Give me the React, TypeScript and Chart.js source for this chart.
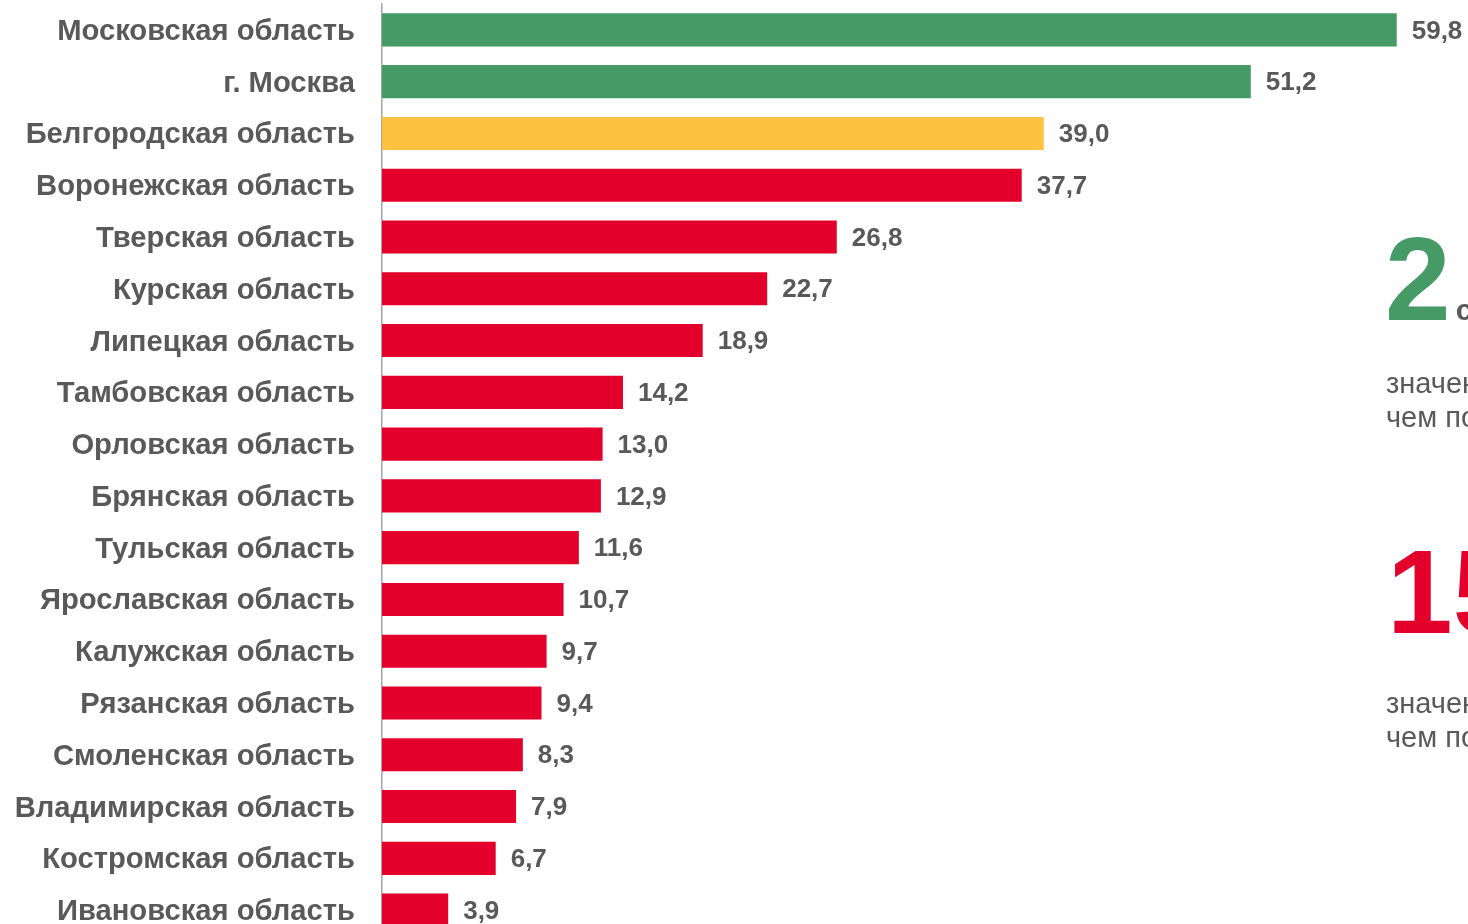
import React, { useEffect, useRef } from "react";
import { Chart, registerables } from "chart.js";

Chart.register(...registerables);

const regions = [
  "Московская область",
  "г. Москва",
  "Белгородская область",
  "Воронежская область",
  "Тверская область",
  "Курская область",
  "Липецкая область",
  "Тамбовская область",
  "Орловская область",
  "Брянская область",
  "Тульская область",
  "Ярославская область",
  "Калужская область",
  "Рязанская область",
  "Смоленская область",
  "Владимирская область",
  "Костромская область",
  "Ивановская область",
];

const values = [59.8, 51.2, 39.0, 37.7, 26.8, 22.7, 18.9, 14.2, 13.0, 12.9, 11.6, 10.7, 9.7, 9.4, 8.3, 7.9, 6.7, 3.9];

const GREEN = "#459A66";
const YELLOW = "#FFC240";
const RED = "#E3002B";
const GRAY = "#595959";

const barColors = [GREEN, GREEN, YELLOW, RED, RED, RED, RED, RED, RED, RED, RED, RED, RED, RED, RED, RED, RED, RED];

const FONT = '"Liberation Sans", Arial, sans-serif';

const valueLabelPlugin = {
  id: "valueLabels",
  afterDatasetsDraw(chart: any) {
    const { ctx } = chart;
    const meta = chart.getDatasetMeta(0);
    ctx.save();
    ctx.font = `bold 26px ${FONT}`;
    ctx.fillStyle = GRAY;
    ctx.textBaseline = "middle";
    ctx.textAlign = "left";
    meta.data.forEach((el: any, i: number) => {
      ctx.fillText(values[i].toFixed(1).replace(".", ","), el.x + 15, el.y + 1.5);
    });
    ctx.restore();
  },
};

export default function App() {
  const canvasRef = useRef<HTMLCanvasElement | null>(null);

  useEffect(() => {
    if (!canvasRef.current) return;
    const chart = new Chart(canvasRef.current, {
      type: "bar",
      data: {
        labels: regions,
        datasets: [
          {
            data: values,
            backgroundColor: barColors,
            borderWidth: 0,
            barPercentage: 0.64,
            categoryPercentage: 1,
          },
        ],
      },
      options: {
        indexAxis: "y",
        animation: false,
        responsive: true,
        maintainAspectRatio: false,
        layout: { padding: { top: 4, left: 0, right: 0, bottom: 0 } },
        plugins: {
          legend: { display: false },
          tooltip: { enabled: false },
        },
        scales: {
          x: { display: false, min: 0, max: 64 },
          y: {
            type: "category",
            grid: { display: false, drawTicks: false },
            border: { display: true, color: "#A6A6A6", width: 1.5 },
            ticks: {
              autoSkip: false,
              padding: 27,
              labelOffset: 2,
              color: GRAY,
              font: { family: FONT, size: 29.2, weight: "bold" },
            },
            afterFit: (scale: any) => {
              scale.width = 382;
              scale.paddingTop = 0;
              scale.paddingBottom = 0;
            },
          },
        },
      },
      plugins: [valueLabelPlugin],
    });
    return () => chart.destroy();
  }, []);

  const line = (top: number, left: number, content: React.ReactNode, style: React.CSSProperties) => (
    <div style={{ position: "absolute", top, left, whiteSpace: "nowrap", fontFamily: FONT, ...style }}>{content}</div>
  );

  return (
    <div style={{ position: "fixed", left: 0, top: 0, width: 1468, height: 924, overflow: "hidden", background: "#fff" }}>
      <div style={{ position: "absolute", left: 0, top: 0, width: 1468, height: 936 }}>
        <canvas ref={canvasRef} />
      </div>
      {line(
        220,
        1385,
        <>
          <span style={{ fontSize: 118, fontWeight: "bold", color: GREEN }}>2</span>
          <span style={{ fontSize: 30, fontWeight: "bold", color: GRAY, marginLeft: 5 }}>субъекта</span>
        </>,
        { lineHeight: "118px" }
      )}
      {line(366, 1386, "значение выше,", { fontSize: 29, lineHeight: "34px", color: GRAY })}
      {line(400, 1386, "чем по ЦФО", { fontSize: 29, lineHeight: "34px", color: GRAY })}
      {line(
        533,
        1387,
        <>
          <span style={{ fontSize: 118, fontWeight: "bold", color: RED }}>15</span>
          <span style={{ fontSize: 30, fontWeight: "bold", color: GRAY, marginLeft: 5 }}>субъектов</span>
        </>,
        { lineHeight: "118px" }
      )}
      {line(686, 1386, "значение ниже,", { fontSize: 29, lineHeight: "34px", color: GRAY })}
      {line(720, 1386, "чем по ЦФО", { fontSize: 29, lineHeight: "34px", color: GRAY })}
    </div>
  );
}
